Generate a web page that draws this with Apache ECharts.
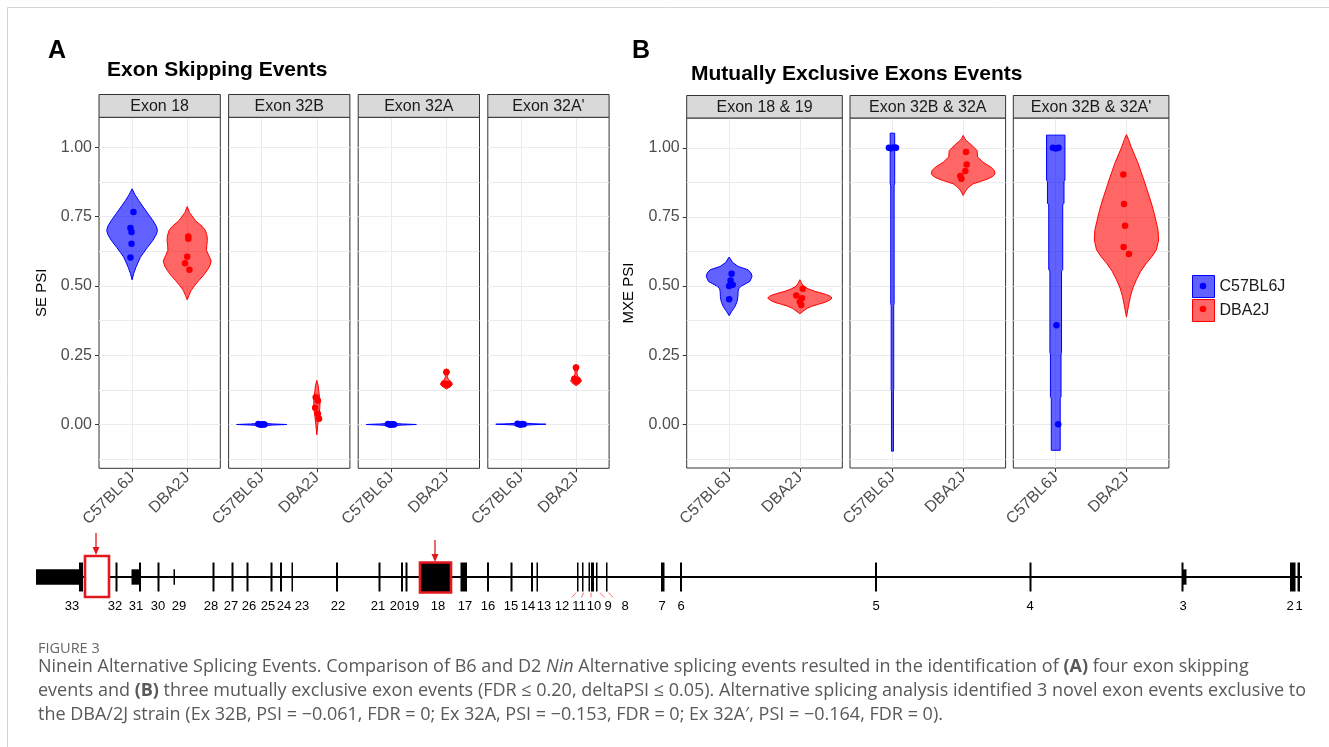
<!DOCTYPE html>
<html><head><meta charset="utf-8">
<script src="https://cdn.jsdelivr.net/npm/echarts@6/dist/echarts.min.js"></script>
<style>html,body{margin:0;padding:0;background:#fff;}#c{width:1329px;height:747px;}</style>
</head><body><div id="c"></div>
<script>
// ---------------- DATA ----------------
const strains = ['C57BL6J', 'DBA2J'];
const seFacets = ['Exon 18', 'Exon 32B', 'Exon 32A', "Exon 32A'"];
const mxFacets = ['Exon 18 & 19', 'Exon 32B & 32A', "Exon 32B & 32A'"];
const yTickValues = [0, 0.25, 0.5, 0.75, 1.0];
const yGridValues = [-0.125, 0, 0.125, 0.25, 0.375, 0.5, 0.625, 0.75, 0.875, 1.0];
const yMin = -0.158, yMax = 1.108;

// PSI of each sample (points)
const seC57 = [
  [0.766, 0.709, 0.694, 0.652, 0.602],
  [0.002, 0.000, -0.001, 0.001, 0.000],
  [0.002, 0.000, -0.001, 0.001, 0.000],
  [0.003, 0.001, 0.000, 0.002, 0.000]
];
const seDBA = [
  [0.678, 0.670, 0.605, 0.582, 0.558],
  [0.098, 0.086, 0.060, 0.039, 0.021],
  [0.189, 0.148, 0.146, 0.144, 0.142],
  [0.206, 0.165, 0.160, 0.158, 0.155]
];
const mxC57 = [
  [0.545, 0.520, 0.505, 0.500, 0.452],
  [1.000, 1.000, 1.000, 0.999, 1.001],
  [1.000, 1.000, 0.998, 0.358, 0.000]
];
const mxDBA = [
  [0.490, 0.466, 0.456, 0.443, 0.432],
  [0.985, 0.940, 0.916, 0.898, 0.888],
  [0.904, 0.797, 0.718, 0.641, 0.616]
];
// horizontal jitter of the points (category units)
const seC57Jitter = [
  [0.025, -0.03, -0.01, -0.01, -0.03], [-0.06, 0.05, -0.02, 0.03, 0.0],
  [-0.06, 0.05, -0.02, 0.03, 0.0], [-0.06, 0.05, -0.02, 0.03, 0.0]
];
const seDBAJitter = [
  [0.02, 0.02, 0.0, -0.04, 0.04], [-0.02, 0.02, -0.03, 0.02, 0.04],
  [0.0, -0.04, 0.04, 0.0, 0.02], [0.0, -0.03, 0.03, 0.0, 0.01]
];
const mxC57Jitter = [
  [0.035, 0.02, 0.05, 0.0, 0.0], [-0.05, 0.05, 0.0, -0.02, 0.03],
  [-0.04, 0.04, 0.0, 0.01, 0.035]
];
const mxDBAJitter = [
  [0.04, -0.05, 0.03, 0.0, 0.02], [0.04, 0.05, 0.03, -0.04, -0.025],
  [-0.045, -0.035, -0.02, -0.04, 0.035]
];

// violin outlines: [PSI, half width in category units]
const seC57Violin = [
  [[0.850,0],[0.830,0.05],[0.808,0.12],[0.785,0.20],[0.760,0.29],[0.735,0.38],[0.715,0.44],[0.700,0.46],[0.685,0.44],[0.665,0.38],[0.639,0.28],[0.620,0.21],[0.603,0.15],[0.585,0.11],[0.567,0.07],[0.545,0.03],[0.522,0]],
  [[0.006,0],[0.004,0.05],[0.002,0.2],[0,0.455],[-0.002,0.2],[-0.004,0.05],[-0.006,0]],
  [[0.006,0],[0.004,0.05],[0.002,0.2],[0,0.455],[-0.002,0.2],[-0.004,0.05],[-0.006,0]],
  [[0.007,0],[0.005,0.05],[0.003,0.2],[0.001,0.455],[-0.001,0.2],[-0.003,0.05],[-0.005,0]]
];
const seDBAViolin = [
  [[0.786,0],[0.765,0.04],[0.735,0.15],[0.715,0.27],[0.700,0.33],[0.680,0.36],[0.664,0.365],[0.645,0.355],[0.628,0.35],[0.610,0.39],[0.590,0.435],[0.572,0.41],[0.555,0.36],[0.537,0.29],[0.519,0.21],[0.500,0.13],[0.483,0.07],[0.465,0.03],[0.450,0]],
  [[0.159,0],[0.140,0.025],[0.120,0.036],[0.090,0.055],[0.060,0.055],[0.030,0.036],[0.000,0.018],[-0.037,0]],
  [[0.200,0],[0.195,0.03],[0.189,0.055],[0.181,0.03],[0.172,0.015],[0.162,0.04],[0.153,0.09],[0.145,0.11],[0.138,0.08],[0.132,0.03],[0.128,0]],
  [[0.216,0],[0.211,0.03],[0.206,0.05],[0.198,0.03],[0.186,0.015],[0.175,0.03],[0.166,0.07],[0.158,0.10],[0.150,0.07],[0.144,0.03],[0.140,0]]
];
const mxC57Violin = [
  [[0.605,0],[0.585,0.05],[0.571,0.127],[0.559,0.268],[0.547,0.31],[0.535,0.324],[0.517,0.293],[0.508,0.23],[0.499,0.165],[0.490,0.135],[0.481,0.127],[0.463,0.124],[0.445,0.113],[0.427,0.085],[0.409,0.038],[0.393,0]],
  [[1.053,0.032],[0.870,0.032],[0.865,0.024],[0.437,0.024],[0.430,0.018],[0.125,0.018],[0.120,0.014],[-0.097,0.014]],
  [[1.046,0.13],[0.884,0.13],[0.878,0.117],[0.800,0.117],[0.794,0.099],[0.560,0.099],[0.554,0.082],[0.260,0.082],[0.254,0.075],[0.100,0.075],[0.094,0.063],[-0.094,0.063]]
];
const mxDBAViolin = [
  [[0.523,0],[0.510,0.025],[0.499,0.056],[0.490,0.12],[0.481,0.211],[0.475,0.30],[0.469,0.38],[0.463,0.43],[0.457,0.455],[0.449,0.42],[0.441,0.352],[0.434,0.26],[0.427,0.169],[0.419,0.10],[0.411,0.056],[0.400,0]],
  [[1.045,0],[1.035,0.02],[1.027,0.042],[1.010,0.12],[0.990,0.197],[0.967,0.204],[0.948,0.282],[0.930,0.394],[0.918,0.44],[0.906,0.451],[0.897,0.42],[0.888,0.352],[0.878,0.24],[0.870,0.141],[0.860,0.09],[0.852,0.056],[0.840,0.025],[0.828,0]],
  [[1.048,0],[1.030,0.03],[1.004,0.066],[0.974,0.115],[0.944,0.165],[0.914,0.205],[0.884,0.246],[0.853,0.285],[0.823,0.324],[0.793,0.36],[0.763,0.392],[0.733,0.42],[0.703,0.446],[0.667,0.455],[0.631,0.423],[0.607,0.36],[0.583,0.282],[0.553,0.20],[0.523,0.141],[0.493,0.09],[0.463,0.056],[0.430,0.03],[0.388,0]]
];

// Nin gene model (positions along the diagram axis)
const exonStart = [36,79,115.5,131.5,139,157.5,173.5,212.5,231.5,246.5,270.5,280,291.5,336,378.5,401,405.5,460.5,487,510.5,531,536.5,577,582,588.5,591,596,606,661,680,875,1029.5,1181.5,1183,1290,1297.5];
const exonEnd   = [79,83,117.5,139,141,159.5,175,214.5,233.5,248.5,272.5,282,293,338,380.5,403,407.5,467,489,512.5,533,538,578.5,583.5,590,594,597.5,607.5,664.5,682,877,1031.5,1183.5,1186.5,1295.5,1300];
const exonKind  = ['utr','cds','cds','utr','cds','cds','utr','cds','cds','cds','cds','cds','cds','cds','cds','cds','cds','cds','cds','cds','cds','cds','cds','cds','cds','cds','cds','cds','cds','cds','cds','cds','cds','utr','cds','cds'];
const geneSpan = [36, 1302];
const boxStart = [85, 420], boxEnd = [109, 451], boxTop = [1.45, 1.0], boxBottom = [-1.38, -1.07];
const boxFilled = [false, true];
const arrowX = [96, 435], arrowFrom = [3.04, 2.55], arrowTo = [1.52, 1.04];
const exonLabels = ['33','32','31','30','29','28','27','26','25','24','23','22','21','20','19','18','17','16','15','14','13','12','11','10','9','8','7','6','5','4','3','2','1'];
const exonLabelPos = [72,115,136,158,179,211,231,249,268,284,302,338,378,397,412,438,465,488,511,528,544,562,579,594,608,625,662,681,876,1030,1183,1290,1299];
const connFrom = [576, 583.5, 591, 600, 608.5], connTo = [572, 581.5, 591, 604.5, 613];

// ---------------- LAYOUT / STYLE ----------------
const FONT = '"Liberation Sans", Arial, sans-serif';
const fills = ['rgba(0,0,255,0.62)', 'rgba(255,0,0,0.6)'];
const strokes = ['#0000ff', '#ff0000'];
const panels = [];
seFacets.forEach((f, i) => panels.push({name: f, left: 99 + i * 129.6, top: 117.3, width: 121.3, height: 351,
  vals: [seC57[i], seDBA[i]], jit: [seC57Jitter[i], seDBAJitter[i]], vio: [seC57Violin[i], seDBAViolin[i]],
  first: i === 0, yName: 'SE PSI', stripTop: 94.5}));
mxFacets.forEach((f, i) => panels.push({name: f, left: 686.7 + i * 163.3, top: 118, width: 155.6, height: 350,
  vals: [mxC57[i], mxDBA[i]], jit: [mxC57Jitter[i], mxDBAJitter[i]], vio: [mxC57Violin[i], mxDBAViolin[i]],
  first: i === 0, yName: 'MXE PSI', stripTop: 95.5}));

const grid = [], xAxis = [], yAxis = [], series = [], graphic = [];

graphic.push({type: 'rect', z: -10, shape: {x: 7.5, y: 7.5, width: 1340, height: 760}, style: {fill: 'none', stroke: '#d4d4d4', lineWidth: 1}});

panels.forEach((p, i) => {
  grid.push({left: p.left, top: p.top, width: p.width, height: p.height, show: true, borderColor: '#333333', borderWidth: 1, backgroundColor: '#fff', z: 0});
  xAxis.push({gridIndex: i, type: 'value', min: 0.4, max: 2.6, position: 'bottom',
    axisLine: {show: false, onZero: false},
    axisTick: {show: true, length: 4, customValues: [1, 2], lineStyle: {color: '#333'}},
    axisLabel: {show: true, customValues: [1, 2], formatter: v => strains[Math.round(v) - 1], rotate: 45, margin: 7,
      color: '#4d4d4d', fontSize: 16, fontFamily: FONT},
    splitLine: {show: true, lineStyle: {color: '#ebebeb', width: 1}}});
  yAxis.push({gridIndex: i, type: 'value', min: yMin, max: yMax, position: 'left',
    axisLine: {show: false, onZero: false},
    axisTick: {show: p.first, length: 4, customValues: yTickValues, lineStyle: {color: '#333'}},
    axisLabel: {show: p.first, customValues: yTickValues, formatter: v => v.toFixed(2), margin: 7, color: '#4d4d4d', fontSize: 16, fontFamily: FONT},
    splitLine: {show: false},
    name: p.first ? p.yName : '', nameLocation: 'middle', nameRotate: 90, nameGap: 50,
    nameTextStyle: {color: '#000', fontSize: 15, fontFamily: FONT}});
  yAxis.push({gridIndex: i, type: 'value', min: yMin, max: yMax, position: 'right',
    axisLine: {show: false, onZero: false}, axisTick: {show: false, customValues: yGridValues}, axisLabel: {show: false},
    splitLine: {show: true, lineStyle: {color: '#ebebeb', width: 1}}});

  [0, 1].forEach(s => {
    const prof = p.vio[s];
    series.push({type: 'custom', name: strains[s], xAxisIndex: i, yAxisIndex: 2 * i, z: 3,
      itemStyle: {color: fills[s], borderColor: strokes[s]},
      data: [[s + 1, prof[0][0]]],
      renderItem: (params, api) => {
        const c = api.value(0), left = [], right = [];
        prof.forEach(([v, w]) => { left.push(api.coord([c - w, v])); right.unshift(api.coord([c + w, v])); });
        return {type: 'polygon', shape: {points: left.concat(right)}, style: {fill: fills[s], stroke: strokes[s], lineWidth: 1}};
      }});
    series.push({type: 'scatter', name: strains[s], xAxisIndex: i, yAxisIndex: 2 * i, z: 4, symbolSize: 6.5,
      itemStyle: {color: strokes[s], opacity: 1},
      data: p.vals[s].map((v, k) => [s + 1 + p.jit[s][k], v])});
  });

  graphic.push({type: 'rect', z: 5, shape: {x: p.left, y: p.stripTop, width: p.width, height: p.top - p.stripTop},
    style: {fill: '#d9d9d9', stroke: '#333333', lineWidth: 1}});
  graphic.push({type: 'text', z: 6, x: p.left + p.width / 2, y: (p.stripTop + p.top) / 2 + 0.5,
    style: {text: p.name, fill: '#1a1a1a', fontSize: 16, fontFamily: FONT, align: 'center', verticalAlign: 'middle'}});
});

// gene model grid
const gi = panels.length;
const gy = 2 * panels.length; // y-axis index of gene grid
grid.push({left: 0, top: 527, width: 1329, height: 100, show: false});
xAxis.push({gridIndex: gi, type: 'value', min: 0, max: 1329, show: false});
yAxis.push({gridIndex: gi, type: 'value', min: -3.45, max: 3.45, show: false});
series.push({type: 'line', xAxisIndex: gi, yAxisIndex: gy, symbol: 'none', silent: true, z: 2,
  lineStyle: {color: '#000', width: 2}, data: [[geneSpan[0], 0], [geneSpan[1], 0]]});
series.push({type: 'custom', xAxisIndex: gi, yAxisIndex: gy, silent: true, z: 3,
  data: exonStart.map((s, k) => [s, exonEnd[k], exonKind[k] === 'cds' ? 1 : 0.53]),
  renderItem: (params, api) => {
    const h = api.value(2);
    const a = api.coord([api.value(0), h]), b = api.coord([api.value(1), -h]);
    return {type: 'rect', shape: {x: a[0], y: a[1], width: b[0] - a[0], height: b[1] - a[1]}, style: {fill: '#000'}};
  }});
series.push({type: 'custom', xAxisIndex: gi, yAxisIndex: gy, silent: true, z: 4,
  data: boxStart.map((s, k) => [s, boxEnd[k], boxTop[k], boxBottom[k], boxFilled[k] ? 1 : 0]),
  renderItem: (params, api) => {
    const a = api.coord([api.value(0), api.value(2)]), b = api.coord([api.value(1), api.value(3)]);
    return {type: 'rect', shape: {x: a[0], y: a[1], width: b[0] - a[0], height: b[1] - a[1]},
      style: {fill: api.value(4) ? '#000' : '#fff', stroke: '#e3171e', lineWidth: 2.6}};
  }});
series.push({type: 'custom', xAxisIndex: gi, yAxisIndex: gy, silent: true, z: 5,
  data: arrowX.map((x, k) => [x, arrowFrom[k], arrowTo[k]]),
  renderItem: (params, api) => {
    const a = api.coord([api.value(0), api.value(1)]), b = api.coord([api.value(0), api.value(2)]);
    return {type: 'group', children: [
      {type: 'line', shape: {x1: a[0], y1: a[1], x2: b[0], y2: b[1] - 6}, style: {stroke: '#e3171e', lineWidth: 1.3}},
      {type: 'polygon', shape: {points: [[b[0] - 3.5, b[1] - 8], [b[0] + 3.5, b[1] - 8], [b[0], b[1]]]}, style: {fill: '#e3171e'}}
    ]};
  }});
series.push({type: 'custom', xAxisIndex: gi, yAxisIndex: gy, silent: true, z: 5,
  data: connFrom.map((x, k) => [x, connTo[k]]),
  renderItem: (params, api) => {
    const a = api.coord([api.value(0), -1.08]), b = api.coord([api.value(1), -1.4]);
    return {type: 'line', shape: {x1: a[0], y1: a[1], x2: b[0], y2: b[1]}, style: {stroke: '#f07070', lineWidth: 1}};
  }});
series.push({type: 'custom', xAxisIndex: gi, yAxisIndex: gy, silent: true, z: 5,
  data: exonLabelPos.map((x, k) => [x, -2.0, k]),
  renderItem: (params, api) => {
    const a = api.coord([api.value(0), api.value(1)]);
    return {type: 'text', x: a[0], y: a[1], style: {text: exonLabels[api.value(2)], fill: '#000', fontSize: 13, fontFamily: FONT, align: 'center', verticalAlign: 'middle'}};
  }});

// titles and panel letters
graphic.push({type: 'text', x: 48, y: 51, style: {text: 'A', fill: '#000', fontSize: 25, fontWeight: 'bold', fontFamily: FONT, verticalAlign: 'middle'}});
graphic.push({type: 'text', x: 107, y: 70, style: {text: 'Exon Skipping Events', fill: '#000', fontSize: 21, fontWeight: 'bold', fontFamily: FONT, verticalAlign: 'middle'}});
graphic.push({type: 'text', x: 632, y: 51, style: {text: 'B', fill: '#000', fontSize: 25, fontWeight: 'bold', fontFamily: FONT, verticalAlign: 'middle'}});
graphic.push({type: 'text', x: 691, y: 74, style: {text: 'Mutually Exclusive Exons Events', fill: '#000', fontSize: 21, fontWeight: 'bold', fontFamily: FONT, verticalAlign: 'middle'}});
// legend dots
graphic.push({type: 'circle', z: 20, shape: {cx: 1203, cy: 286, r: 3.3}, style: {fill: strokes[0]}});
graphic.push({type: 'circle', z: 20, shape: {cx: 1203, cy: 309, r: 3.3}, style: {fill: strokes[1]}});

// caption
const CF = '"Open Sans", "Noto Sans", sans-serif', CC = '#595959', CS = 18;
const rich = {
  i: {fontStyle: 'italic', fontSize: CS, fontFamily: CF, fill: CC},
  b: {fontWeight: 'bold', fontSize: CS, fontFamily: CF, fill: CC}
};
graphic.push({type: 'text', x: 38, y: 649, style: {text: 'FIGURE 3', fill: '#666', fontSize: 14.5, fontFamily: CF, verticalAlign: 'middle'}});
const capLines = [
  'Ninein Alternative Splicing Events. Comparison of B6 and D2 {i|Nin} Alternative splicing events resulted in the identification of {b|(A)} four exon skipping',
  'events and {b|(B)} three mutually exclusive exon events (FDR \u2264 0.20, deltaPSI \u2264 0.05). Alternative splicing analysis identified 3 novel exon events exclusive to',
  'the DBA/2J strain (Ex 32B, PSI = \u22120.061, FDR = 0; Ex 32A, PSI = \u22120.153, FDR = 0; Ex 32A\u2032, PSI = \u22120.164, FDR = 0).'
];
capLines.forEach((t, k) => graphic.push({type: 'text', x: 38, y: 667 + k * 24,
  style: {text: t, rich, fill: CC, fontSize: CS, fontFamily: CF, verticalAlign: 'middle'}}));

const option = {
  animation: false,
  backgroundColor: '#fff',
  grid, xAxis, yAxis, series, graphic,
  legend: {left: 1192, top: 275, orient: 'vertical', padding: 0, itemWidth: 22, itemHeight: 22, itemGap: 1, icon: 'rect', selectedMode: false,
    textStyle: {color: '#1a1a1a', fontSize: 16, fontFamily: FONT},
    data: [
      {name: strains[0], itemStyle: {color: fills[0], borderColor: strokes[0], borderWidth: 1}},
      {name: strains[1], itemStyle: {color: fills[1], borderColor: strokes[1], borderWidth: 1}}
    ]}
};
const chart = echarts.init(document.getElementById('c'));
chart.setOption(option);
</script></body></html>
